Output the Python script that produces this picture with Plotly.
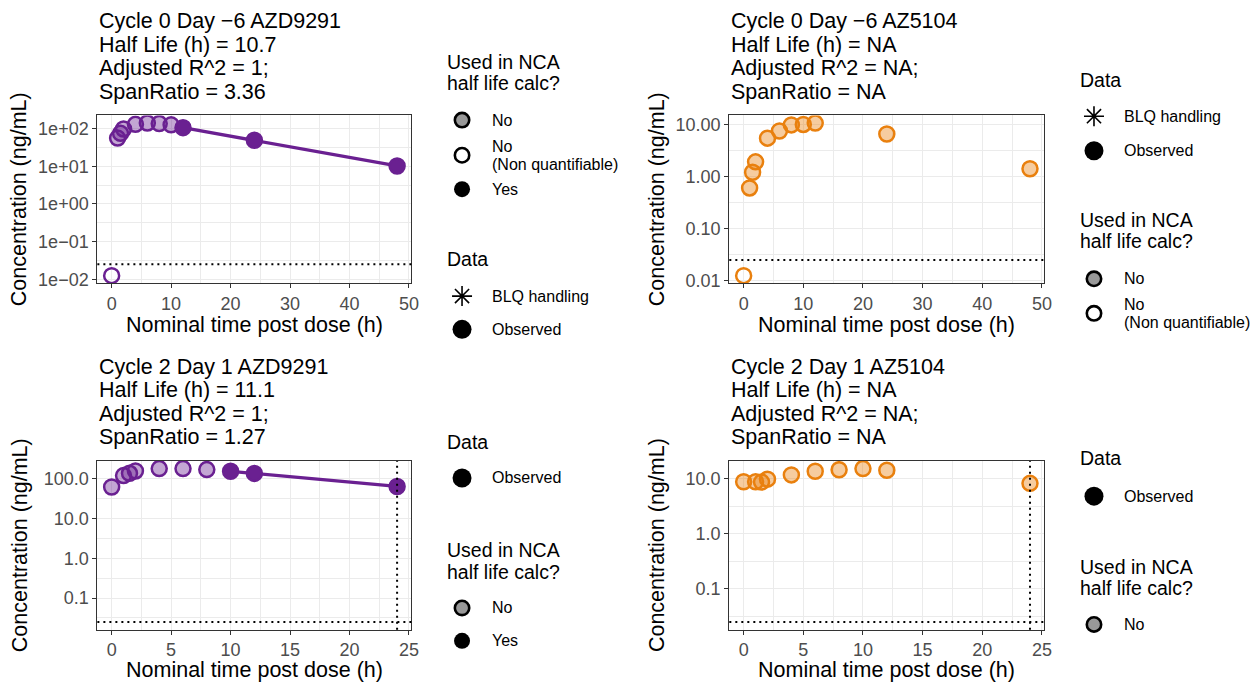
import math
import plotly.graph_objects as go

W, H = 1256, 689
FONT = "Liberation Sans, Arial, Helvetica, sans-serif"

PURPLE = (106, 32, 145)
ORANGE = (233, 128, 14)

# ---- data -------------------------------------------------------------
lloq = 0.025          # ng/mL, dotted reference line
tlast_c2 = 24         # h, dotted vertical line in cycle 2 panels

times_c0 = [0, 1, 1.5, 2, 4, 6, 8, 10, 12, 24, 48]
times_c2 = [0, 1, 1.5, 2, 4, 6, 8, 10, 12, 24]

# concentrations (ng/mL); BLQ samples plotted at LLOQ/2
conc_azd9291_c0 = [0.0125, 56, 75, 98, 130, 140, 136, 126, 106, 49, 10.2]
conc_az5104_c0 = [0.0125, 0.60, 1.2, 1.9, 5.4, 7.4, 9.7, 9.9, 10.5, 6.5, 1.4]
conc_azd9291_c2 = [62, 120, 137, 157, 180, 180, 170, 154, 136, 64]
conc_az5104_c2 = [8.7, 8.7, 8.6, 9.7, 11.6, 13.5, 14.4, 15.1, 14.1, 8.15]

# used in NCA half-life calculation: Yes / No / NQ (non quantifiable)
used_azd9291_c0 = ["NQ", "No", "No", "No", "No", "No", "No", "No", "Yes", "Yes", "Yes"]
used_az5104_c0 = ["NQ", "No", "No", "No", "No", "No", "No", "No", "No", "No", "No"]
used_azd9291_c2 = ["No", "No", "No", "No", "No", "No", "No", "Yes", "Yes", "Yes"]
used_az5104_c2 = ["No"] * 10

titles_azd9291_c0 = ["Cycle 0 Day \u22126 AZD9291", "Half Life (h) = 10.7",
                     "Adjusted R^2 = 1;", "SpanRatio = 3.36"]
titles_az5104_c0 = ["Cycle 0 Day \u22126 AZ5104", "Half Life (h) = NA",
                    "Adjusted R^2 = NA;", "SpanRatio = NA"]
titles_azd9291_c2 = ["Cycle 2 Day 1 AZD9291", "Half Life (h) = 11.1",
                     "Adjusted R^2 = 1;", "SpanRatio = 1.27"]
titles_az5104_c2 = ["Cycle 2 Day 1 AZ5104", "Half Life (h) = NA",
                    "Adjusted R^2 = NA;", "SpanRatio = NA"]

yticks_azd9291_c0 = [0.01, 0.1, 1, 10, 100]
ylabels_azd9291_c0 = ["1e\u221202", "1e\u221201", "1e+00", "1e+01", "1e+02"]
yticks_az5104_c0 = [0.01, 0.1, 1, 10]
ylabels_az5104_c0 = ["0.01", "0.10", "1.00", "10.00"]
yticks_azd9291_c2 = [0.1, 1, 10, 100]
ylabels_azd9291_c2 = ["0.1", "1.0", "10.0", "100.0"]
yticks_az5104_c2 = [0.1, 1, 10]
ylabels_az5104_c2 = ["0.1", "1.0", "10.0"]

# ---- panel configuration ---------------------------------------------
LEG_L = dict(title_x=448, key_x=465, text_x=493)
LEG_R = dict(title_x=1085, key_x=1101, text_x=1129)

panels = [
    dict(t=times_c0, c=conc_azd9291_c0, u=used_azd9291_c0, col=PURPLE,
         titles=titles_azd9291_c0, yt=yticks_azd9291_c0, yl=ylabels_azd9291_c0,
         box=(98, 116, 414, 286), xdtick=10, vline=None, ytitle_x=20,
         title_y0=20.5, xtitle_y=328,
         legend=[("title", "Used in NCA", 61.7), ("title", "half life calc?", 83.3),
                 ("No", "No", 120.7), ("NQ", ["No", "(Non quantifiable)"], 156.3),
                 ("Yes", "Yes", 190.7),
                 ("title", "Data", 261.7), ("BLQ", "BLQ handling", 299),
                 ("Obs", "Observed", 332.7)], leg=LEG_L),
    dict(t=times_c0, c=conc_az5104_c0, u=used_az5104_c0, col=ORANGE,
         titles=titles_az5104_c0, yt=yticks_az5104_c0, yl=ylabels_az5104_c0,
         box=(734, 116, 1051, 286), xdtick=10, vline=None, ytitle_x=662,
         title_y0=20.5, xtitle_y=328,
         legend=[("title", "Data", 80), ("BLQ", "BLQ handling", 116.7),
                 ("Obs", "Observed", 151.7),
                 ("title", "Used in NCA", 222), ("title", "half life calc?", 243.6),
                 ("No", "No", 281.5), ("NQ", ["No", "(Non quantifiable)"], 316.5)],
         leg=LEG_R),
    dict(t=times_c2, c=conc_azd9291_c2, u=used_azd9291_c2, col=PURPLE,
         titles=titles_azd9291_c2, yt=yticks_azd9291_c2, yl=ylabels_azd9291_c2,
         box=(98, 466, 414, 637), xdtick=5, vline=tlast_c2, ytitle_x=20,
         title_y0=370.7, xtitle_y=678,
         legend=[("title", "Data", 446.7), ("Obs", "Observed", 483.3),
                 ("title", "Used in NCA", 556.7), ("title", "half life calc?", 578.3),
                 ("No", "No", 615), ("Yes", "Yes", 648.3)], leg=LEG_L),
    dict(t=times_c2, c=conc_az5104_c2, u=used_az5104_c2, col=ORANGE,
         titles=titles_az5104_c2, yt=yticks_az5104_c2, yl=ylabels_az5104_c2,
         box=(734, 466, 1051, 637), xdtick=5, vline=tlast_c2, ytitle_x=662,
         title_y0=370.7, xtitle_y=678,
         legend=[("title", "Data", 463.3), ("Obs", "Observed", 501.7),
                 ("title", "Used in NCA", 573.3), ("title", "half life calc?", 595),
                 ("No", "No", 631.7)], leg=LEG_R),
]


def rgba(c, a=1.0):
    return f"rgba({c[0]},{c[1]},{c[2]},{a})"


def px_x(x):
    return x / W


def px_y(y):
    return 1 - y / H


def key_circle(cx, cy, r, fill, line_color, line_width):
    return dict(type="circle", xref="paper", yref="paper",
                xsizemode="pixel", ysizemode="pixel",
                xanchor=px_x(cx), yanchor=px_y(cy),
                x0=-r, x1=r, y0=-r, y1=r,
                fillcolor=fill, line=dict(color=line_color, width=line_width),
                layer="above")


def key_asterisk(cx, cy, r):
    d = r * 0.7071
    path = (f"M{-r},0 L{r},0 M0,{-r} L0,{r} "
            f"M{-d},{-d} L{d},{d} M{-d},{d} L{d},{-d}")
    return dict(type="path", xref="paper", yref="paper",
                xsizemode="pixel", ysizemode="pixel",
                xanchor=px_x(cx), yanchor=px_y(cy), path=path,
                line=dict(color="black", width=1.6), layer="above")


GRID = "#EBEBEB"
BORDER = "#333333"

fig = go.Figure()
annotations = []
shapes = []

for i, p in enumerate(panels, start=1):
    sfx = "" if i == 1 else str(i)
    xref, yref = f"x{sfx}", f"y{sfx}"
    x0, y0, x1, y1 = p["box"]

    # axis ranges: ggplot-style 5% expansion of the data (and reference lines)
    xs = list(p["t"]) + ([p["vline"]] if p["vline"] is not None else [])
    xpad = 0.05 * (max(xs) - min(xs))
    xr = [min(xs) - xpad, max(xs) + xpad]
    lv = [math.log10(v) for v in list(p["c"]) + [lloq]]
    ypad = 0.05 * (max(lv) - min(lv))
    yr = [min(lv) - ypad, max(lv) + ypad]

    minor_y = [10 ** (k + 0.5) for k in range(-4, 4)]

    fig.update_layout({
        f"xaxis{sfx}": dict(
            domain=[px_x(x0), px_x(x1)], anchor=yref, range=xr,
            tick0=0, dtick=p["xdtick"],
            showgrid=True, gridcolor=GRID, gridwidth=1.3,
            minor=dict(tick0=0, dtick=p["xdtick"] / 2, showgrid=True,
                       gridcolor=GRID, gridwidth=0.7, ticks=""),
            showline=True, mirror=True, linecolor=BORDER, linewidth=1.2,
            ticks="outside", ticklen=4, tickwidth=1.1, tickcolor=BORDER,
            tickfont=dict(family=FONT, size=18, color="#4D4D4D"),
            zeroline=False, fixedrange=True),
        f"yaxis{sfx}": dict(
            domain=[px_y(y1), px_y(y0)], anchor=xref, type="log", range=yr,
            tickmode="array", tickvals=p["yt"], ticktext=p["yl"],
            showgrid=True, gridcolor=GRID, gridwidth=1.3,
            minor=dict(tickmode="array", tickvals=minor_y, showgrid=True,
                       gridcolor=GRID, gridwidth=0.7, ticks=""),
            showline=True, mirror=True, linecolor=BORDER, linewidth=1.2,
            ticks="outside", ticklen=4, tickwidth=1.1, tickcolor=BORDER,
            tickfont=dict(family=FONT, size=18, color="#4D4D4D"),
            zeroline=False, fixedrange=True),
    })

    # LLOQ reference line
    shapes.append(dict(type="line", xref=f"{xref} domain", x0=0, x1=1,
                       yref=yref, y0=lloq, y1=lloq,
                       line=dict(color="black", width=2, dash="2px,4px"), layer="above"))
    if p["vline"] is not None:
        shapes.append(dict(type="line", yref=f"{yref} domain", y0=0, y1=1,
                           xref=xref, x0=p["vline"], x1=p["vline"],
                           line=dict(color="black", width=2, dash="2px,4px"), layer="above"))

    # terminal-phase line through the points used for half-life
    yt_ = [t for t, u in zip(p["t"], p["u"]) if u == "Yes"]
    yc_ = [c for c, u in zip(p["c"], p["u"]) if u == "Yes"]
    if yt_:
        fig.add_trace(go.Scatter(x=yt_, y=yc_, mode="lines", xaxis=xref, yaxis=yref,
                                 line=dict(color=rgba(p["col"]), width=3.3),
                                 hoverinfo="skip", showlegend=False))

    fills = []
    for u in p["u"]:
        if u == "Yes":
            fills.append(rgba(p["col"]))
        elif u == "No":
            fills.append(rgba(p["col"], 0.4))
        else:
            fills.append("rgba(255,255,255,0)")
    fig.add_trace(go.Scatter(
        x=p["t"], y=p["c"], mode="markers", xaxis=xref, yaxis=yref,
        marker=dict(symbol="circle", size=15, color=fills, opacity=1,
                    line=dict(color=rgba(p["col"]), width=2.5)),
        hoverinfo="skip", showlegend=False))

    # panel title (four lines)
    for k, line in enumerate(p["titles"]):
        annotations.append(dict(x=px_x(x0), y=px_y(p["title_y0"] + 23.8 * k),
                                xref="paper", yref="paper", xanchor="left",
                                yanchor="middle", showarrow=False, text=line,
                                font=dict(family=FONT, size=21.5, color="black")))
    # axis titles
    annotations.append(dict(x=px_x((x0 + x1) / 2), y=px_y(p["xtitle_y"]),
                            xref="paper", yref="paper", xanchor="center",
                            yanchor="middle", showarrow=False,
                            text="Nominal time post dose (h)",
                            font=dict(family=FONT, size=21.5, color="black")))
    annotations.append(dict(x=px_x(p["ytitle_x"]), y=px_y((y0 + y1) / 2),
                            xref="paper", yref="paper", xanchor="center",
                            yanchor="middle", showarrow=False, textangle=-90,
                            text="Concentration (ng/mL)",
                            font=dict(family=FONT, size=21.5, color="black")))

    # legends: titles, labels and keys
    lg = p["leg"]
    for kind, text, yy in p["legend"]:
        if kind == "title":
            annotations.append(dict(x=px_x(lg["title_x"]), y=px_y(yy), xref="paper",
                                    yref="paper", xanchor="left", yanchor="middle",
                                    showarrow=False, text=text,
                                    font=dict(family=FONT, size=19.5, color="black")))
            continue
        lines = text if isinstance(text, list) else [text]
        ys = [yy] if len(lines) == 1 else [yy - 9.2, yy + 9.2]
        for tl, ty in zip(lines, ys):
            annotations.append(dict(x=px_x(lg["text_x"]), y=px_y(ty), xref="paper",
                                    yref="paper", xanchor="left", yanchor="middle",
                                    showarrow=False, text=tl,
                                    font=dict(family=FONT, size=16, color="black")))
        kx = lg["key_x"]
        if kind == "No":
            shapes.append(key_circle(kx, yy, 7.2, "#999999", "black", 2.6))
        elif kind == "NQ":
            shapes.append(key_circle(kx, yy, 7.2, "white", "black", 2.6))
        elif kind == "Yes":
            shapes.append(key_circle(kx, yy, 8, "black", "black", 0))
        elif kind == "Obs":
            shapes.append(key_circle(kx, yy, 9.5, "black", "black", 0))
        else:  # BLQ
            shapes.append(key_asterisk(kx, yy, 10))

fig.update_layout(
    width=W, height=H, margin=dict(l=0, r=0, t=0, b=0),
    paper_bgcolor="white", plot_bgcolor="white",
    showlegend=False, hovermode=False,
    annotations=annotations, shapes=shapes,
    font=dict(family=FONT),
)

fig.write_html("out.html", config={"displayModeBar": False})
